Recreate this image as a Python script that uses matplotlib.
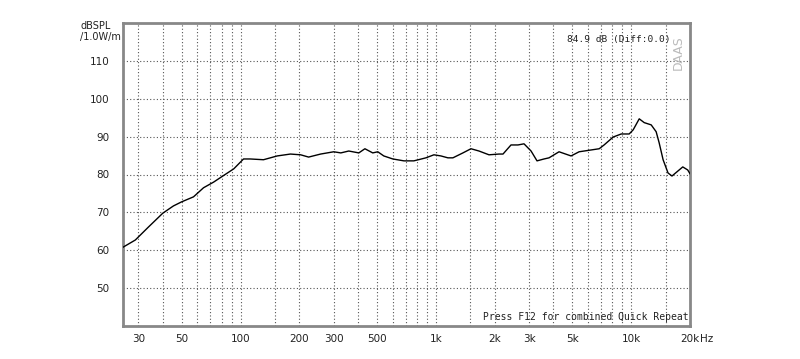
import matplotlib
matplotlib.use("Agg")
import matplotlib.pyplot as plt

freq_hz = [25, 28.9, 33.7, 40, 45.3, 50, 57.4, 64.6, 72.8, 80, 92.3, 103.5, 112, 131, 154, 180, 203,
           223, 257, 300, 326, 358, 403, 433, 475, 504, 541, 602, 686, 771, 889, 977, 1061, 1152,
           1222, 1375, 1512, 1662, 1870, 2104, 2206, 2424, 2631, 2826, 3071, 3294, 3578, 3795,
           4271, 4921, 5410, 5743, 6856, 7263, 8088, 8892, 9762, 10237, 10993, 11657, 12657,
           13417, 13898, 14564, 15436, 16172, 17141, 18366, 19466, 20000]
spl_db = [60.8, 62.7, 66.1, 69.8, 71.7, 72.8, 74.1, 76.5, 78.0, 79.4, 81.5, 84.1, 84.1, 83.9, 84.9,
          85.4, 85.2, 84.6, 85.4, 86.0, 85.7, 86.2, 85.7, 86.8, 85.7, 86.0, 84.9, 84.1, 83.6, 83.6,
          84.4, 85.2, 84.9, 84.4, 84.4, 85.7, 86.8, 86.2, 85.2, 85.4, 85.4, 87.8, 87.8, 88.1, 86.2,
          83.6, 84.1, 84.4, 86.0, 84.9, 86.0, 86.2, 86.8, 87.8, 89.9, 90.7, 90.7, 91.8, 94.7, 93.7,
          93.1, 91.3, 88.4, 83.9, 80.4, 79.6, 80.7, 82.0, 81.2, 80.2]

x_tick_vals = [30, 50, 100, 200, 300, 500, 1000, 2000, 3000, 5000, 10000, 20000]
x_tick_labels = ["30", "50", "100", "200", "300", "500", "1k", "2k", "3k", "5k", "10k", "20k"]
x_grid_vals = [30, 40, 50, 60, 70, 80, 90, 100, 150, 200, 300, 400, 500, 600, 700, 800, 900,
               1000, 1500, 2000, 3000, 4000, 5000, 6000, 7000, 8000, 9000, 10000, 15000]
y_tick_vals = [50, 60, 70, 80, 90, 100, 110]

fig = plt.figure(figsize=(8, 3.59), dpi=100)
ax = fig.add_axes([123/800, 33/359, 567/800, 303/359])
ax.set_xscale("log")
ax.set_xlim(25, 20000)
ax.set_ylim(40, 120)

for xv in x_grid_vals:
    ax.axvline(xv, color="#555555", lw=0.8, ls=(0, (1, 2)), zorder=1)
for yv in y_tick_vals:
    ax.axhline(yv, color="#555555", lw=0.8, ls=(0, (1, 2)), zorder=1)

ax.plot(freq_hz, spl_db, color="black", lw=1.0, zorder=3)

ax.minorticks_off()
ax.set_xticks(x_tick_vals)
ax.set_xticklabels(x_tick_labels)
ax.set_yticks(y_tick_vals)
ax.set_yticklabels([str(v) for v in y_tick_vals])
ax.tick_params(axis="both", length=0, labelsize=7.5, colors="#222222")
ax.tick_params(axis="x", pad=6)
ax.tick_params(axis="y", pad=10)

for sp in ax.spines.values():
    sp.set_color("#888888")
    sp.set_linewidth(2)

xl = ax.get_xticklabels()[-1]
fig.canvas.draw()
bb = xl.get_window_extent()
fig.text(bb.x1 / 800 + 0.001, (bb.y0 + bb.y1) / 2 / 359, "Hz", fontsize=7.5, color="#222222",
         ha="left", va="center")
fig.text(96/800, 1 - 26/359, "dBSPL", fontsize=7, color="#222222", ha="center", va="center")
fig.text(100/800, 1 - 37/359, "/1.0W/m", fontsize=7, color="#222222", ha="center", va="center")

ax.text(0.965, 0.96, "84.9 dB (Diff:0.0)", transform=ax.transAxes, fontsize=6.8,
        family="DejaVu Sans Mono", ha="right", va="top", color="#222222")
ax.text(0.99, 0.96, "DAAS", transform=ax.transAxes, fontsize=9, rotation=90,
        ha="right", va="top", color="#bbbbbb")
ax.text(0.997, 0.012, "Press F12 for combined Quick Repeat", transform=ax.transAxes,
        fontsize=7, family="DejaVu Sans Mono", ha="right", va="bottom", color="#222222")

fig.savefig("out.png", dpi=100)
